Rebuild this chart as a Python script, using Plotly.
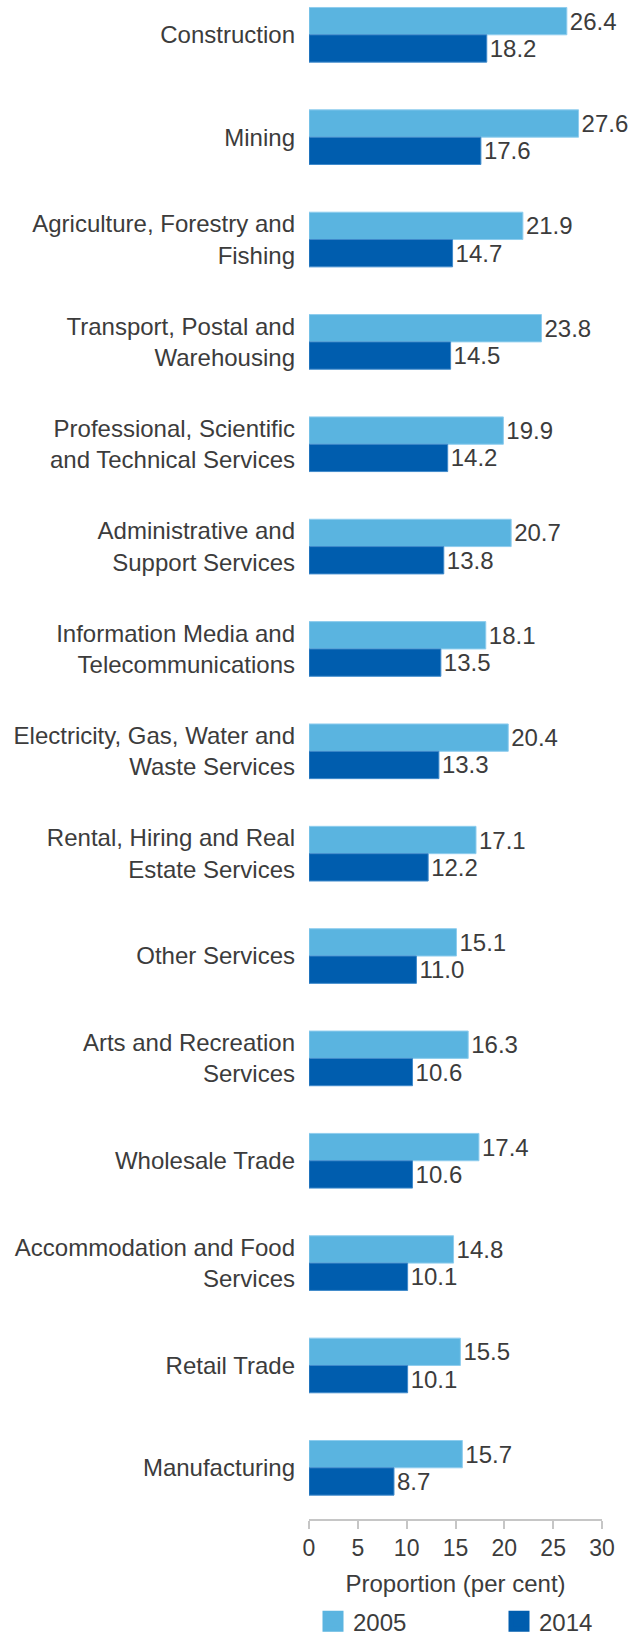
import plotly.graph_objects as go

# Industries, top to bottom
industries = [
    "Construction",
    "Mining",
    "Agriculture, Forestry and Fishing",
    "Transport, Postal and Warehousing",
    "Professional, Scientific and Technical Services",
    "Administrative and Support Services",
    "Information Media and Telecommunications",
    "Electricity, Gas, Water and Waste Services",
    "Rental, Hiring and Real Estate Services",
    "Other Services",
    "Arts and Recreation Services",
    "Wholesale Trade",
    "Accommodation and Food Services",
    "Retail Trade",
    "Manufacturing",
]

# Wrapped versions used as axis tick labels
industry_labels = [
    "Construction",
    "Mining",
    "Agriculture, Forestry and<br>Fishing",
    "Transport, Postal and<br>Warehousing",
    "Professional, Scientific<br>and Technical Services",
    "Administrative and<br>Support Services",
    "Information Media and<br>Telecommunications",
    "Electricity, Gas, Water and<br>Waste Services",
    "Rental, Hiring and Real<br>Estate Services",
    "Other Services",
    "Arts and Recreation<br>Services",
    "Wholesale Trade",
    "Accommodation and Food<br>Services",
    "Retail Trade",
    "Manufacturing",
]

share_2005 = [26.4, 27.6, 21.9, 23.8, 19.9, 20.7, 18.1, 20.4, 17.1, 15.1, 16.3, 17.4, 14.8, 15.5, 15.7]
share_2014 = [18.2, 17.6, 14.7, 14.5, 14.2, 13.8, 13.5, 13.3, 12.2, 11.0, 10.6, 10.6, 10.1, 10.1, 8.7]

x_ticks = [0, 5, 10, 15, 20, 25, 30]

LIGHT = "#5AB4E0"
DARK = "#005DAE"
TEXT = "#3C3C3C"
AXIS = "#C6C6C6"
FONT = "Liberation Sans, Arial, sans-serif"

series = [
    ("2005", share_2005, LIGHT, "#8FCDEE", "legend"),
    ("2014", share_2014, DARK, "#3F8ACB", "legend2"),
]

fig = go.Figure()
for name, vals, col, edge, leg in series:
    fig.add_trace(go.Bar(
        name=name,
        x=vals,
        y=industries,
        orientation="h",
        marker=dict(color=col, line=dict(color=edge, width=1)),
        text=vals,
        texttemplate="%{x:.1f}",
        textposition="outside",
        textfont=dict(family=FONT, size=24, color=TEXT),
        cliponaxis=False,
        hoverinfo="skip",
        showlegend=False,
    ))

# Legend entries with large square swatches
for name, vals, col, edge, leg in series:
    fig.add_trace(go.Scatter(
        name=name,
        x=[None],
        y=[None],
        mode="markers",
        marker=dict(symbol="square", size=16, color=col, line=dict(color=col, width=5)),
        legend=leg,
        hoverinfo="skip",
    ))

legend_style = dict(
    orientation="h",
    xref="container",
    yref="container",
    xanchor="left",
    yanchor="middle",
    y=0.0088,
    font=dict(family=FONT, size=24, color=TEXT),
    bgcolor="rgba(0,0,0,0)",
    itemclick=False,
    itemdoubleclick=False,
)

fig.update_layout(
    width=643,
    height=1636,
    margin=dict(l=309, r=41, t=0, b=117, pad=0),
    paper_bgcolor="white",
    plot_bgcolor="white",
    barmode="group",
    bargap=0.466,
    bargroupgap=0,
    font=dict(family=FONT, size=24, color=TEXT),
    showlegend=True,
    legend=dict(legend_style, x=313 / 643),
    legend2=dict(legend_style, x=499 / 643),
    xaxis=dict(
        range=[0, 30],
        tickmode="array",
        tickvals=x_ticks,
        ticktext=[str(v) for v in x_ticks],
        showgrid=False,
        zeroline=False,
        showline=True,
        linecolor=AXIS,
        linewidth=1.5,
        ticks="outside",
        ticklen=8,
        tickwidth=1.5,
        tickcolor=AXIS,
        tickfont=dict(family=FONT, size=23, color=TEXT),
        title=dict(text="Proportion (per cent)", font=dict(family=FONT, size=24, color=TEXT), standoff=15),
        fixedrange=True,
    ),
    yaxis=dict(
        type="category",
        categoryorder="array",
        categoryarray=industries,
        range=[14.5, -0.34],
        tickmode="array",
        tickvals=industries,
        ticktext=industry_labels,
        showgrid=False,
        zeroline=False,
        showline=False,
        ticks="",
        ticklabelstandoff=13,
        tickfont=dict(family=FONT, size=24, color=TEXT),
        fixedrange=True,
    ),
)

fig.write_html("out.html", config={"displayModeBar": False})
